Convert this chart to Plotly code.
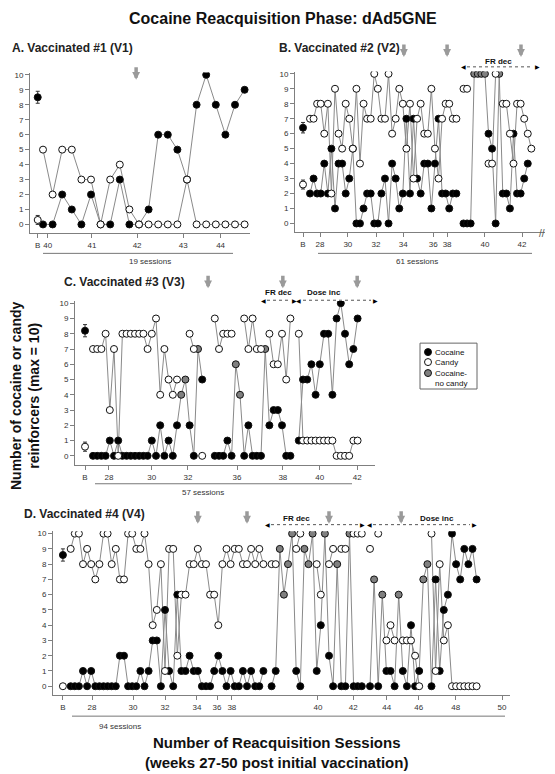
import plotly.graph_objects as go

W, H = 555, 774
OFF = 8  # page body margin of the html page
FONT = "Liberation Sans, Arial, sans-serif"
LINE = "#8a8a8a"
AX = "#7f7f7f"

# ---------------- data ----------------
# Panel A (V1)
a_cocaine = [0, 0, 2, 1, 0, 2, 0, 0, 3, 0, 0, 1, 6, 6, 5, 3, 8, 10, 8, 6, 8, 9]
a_candy = [5, 2, 5, 5, 3, 3, 0, 3, 4, 1, 0, 0, 0, 0, 0, 3, 0, 0, 0, 0, 0, 0]
a_nocandy = []
a_baseline = [8.5, 0.4, 0.3, 0.3]          # cocaine mean, sem, candy mean, sem
a_ticklabels = ["B", "40", "41", "42", "43", "44"]
a_tickpos = [-0.55, 0.5, 5.1, 9.8, 14.6, 18.5]
a_vaccinations = [9.7]
a_sessions_label = "19 sessions"

# Panel B (V2)
b_cocaine = [2, 3, 2, 2, 4, 2, 5, 1, 4, 4, 2, 3, 5, 0, 0, 1, 2, 2, 0, 0,
             2, 3, 0, 4, 3, 1, 2, 7, 2, 7, 3, 2, 4, 4, 1, 4, 7, 2, 2, 1,
             2, 2, None, 0, 0, 0, 10, 10, 10, 10, 6, 5, 0, 10, 2, 2, 1, 6, 2, 2,
             3, 4, None]
b_candy = [7, 7, 8, 8, 6, 8, 2, 9, 6, 5, 8, 7, 5, 9, 4, 8, 7, 7, 10, 9,
           7, 7, 10, 6, 7, 9, 8, 5, 8, 3, 7, 8, 6, 6, 9, 5, 3, 7, 8, 8,
           7, 7, None, 9, 9, None, None, None, None, None, 4, 4, 10, None, 8, 8, 6, 4, 8, 8,
           7, 6, 5]
b_nocandy = [46, 47, 48, 49, 53]
b_baseline = [6.4, 0.35, 2.6, 0.3]
b_ticklabels = ["B", "28", "30", "32", "34", "36", "38", "40", "42"]
b_tickpos = [-1.96, 2.8, 10.6, 18.5, 26.1, 34.5, 38.4, 49.0, 59.4]
b_vaccinations = [26.3, 38.4, 59.1]
b_sessions_label = "61 sessions"

# Panel C (V3)
c_cocaine = [0, 0, 0, 0, 1, 0, 1, 0, 0, 0, 0, 0, 0, 0, 1, 0, 2, 0, 1, 0,
             2, 4, 5, 2, 0, 7, 5, None, None, 0, 0, 0, 1, 0, 6, 4, 0, 2, 0, 0,
             0, 7, 2, 3, 3, 2, 0, 0, None, 1, 5, 5, 6, 4, 6, 8, 8, 4, 9, 10,
             8, 6, 7, 9]
c_candy = [7, 7, 7, 8, 3, 7, 0, 8, 8, 8, 8, 8, 8, 7, 8, 9, 4, 7, 5, 4,
           5, None, None, 8, 7, None, 0, None, None, 9, 7, 8, 8, 8, None, None, 9, 7, 9, 7,
           7, None, 8, 6, 6, 8, 5, 9, None, 8, 1, 1, 1, 1, 1, 1, 1, 1, 0, 0,
           0, 0, 1, 1]
c_nocandy = [21, 22, 25, 34, 35, 41]
c_baseline = [8.2, 0.4, 0.6, 0.3]
c_ticklabels = ["B", "28", "30", "32", "36", "38", "40", "42"]
c_tickpos = [-1.9, 3.8, 14.0, 22.6, 34.3, 45.2, 54.0, 62.9]
c_vaccinations = [27.4, 45.2, 62.9]
c_sessions_label = "57 sessions"

# Panel D (V4)
d_cocaine = [0, 0, 0, 1, 0, 1, 0, 0, 0, 0, 0, 0, 2, 2, 0, 0, 0, 1, 0, 1,
             3, 3, 0, 5, 1, 0, 6, 1, 1, 2, 1, 1, 0, 0, 0, 1, 2, 1, 0, 1,
             0, 0, 1, 0, 1, 0, 0, 1, None, 0, 1, 9, 6, 8, 10, 1, 0, 9, 8, 10,
             1, 4, 10, 2, 0, 8, 0, 0, 10, 0, 0, 0, None, 0, 7, 0, 6, 1, 1, 0,
             6, 1, 0, 4, 0, 1, 7, 8, 0, 7, 1, 5, 6, 10, 8, 7, 9, 8, 9, 7]
d_candy = [9, 10, 10, 8, 9, 8, 7, 8, 10, 10, 8, 9, 7, 7, 10, 10, 9, 9, 10, 8,
           4, 5, 8, 1, 9, 9, 2, 6, 6, 8, 8, 9, 8, 8, 6, 6, 4, 8, 9, 8,
           9, 9, 8, 8, 9, 8, 9, 8, None, 8, 8, None, None, None, None, 9, 10, None, None, None,
           8, 6, None, 8, 9, None, 9, 9, None, 10, 10, 10, None, 9, None, 10, None, 3, 4, 3,
           None, 3, 3, 3, 2, 0, None, None, 10, 1, 8, 3, 4, 0, 0, 0, 0, 0, 0, 0]
d_nocandy = [51, 52, 53, 54, 57, 58, 59, 62, 65, 68, 74, 76, 80, 86, 87]
d_baseline = [8.6, 0.4, 0.0, 0.0]
d_ticklabels = ["B", "28", "30", "32", "34", "36", "38", "40", "42", "44", "46", "48", "50"]
d_tickpos = [-1.9, 5.2, 15.2, 23.0, 30.8, 35.7, 39.3, 60.3, 68.9, 77.1, 84.9, 93.9, 105.2]
d_vaccinations = [31.0, 43.0, 63.0, 80.6]
d_sessions_label = "94 sessions"

legend_labels = ["Cocaine", "Candy", "Cocaine-<br>no candy"]

# ---------------- layout geometry (pixels of the 555x774 picture) ----------------
panels = [
    dict(n=1, coc=a_cocaine, candy=a_candy, nc=a_nocandy, base=a_baseline, tl=a_ticklabels,
         tp=a_tickpos, vac=a_vaccinations, xpx=(30, 250), x0=43, dx=9.6, y0=223, dy=15,
         title="A. Vaccinated #1 (V1)", tx=10, ty=46, arrow_tip=78,
         sess=a_sessions_label, sline=(43, 233, 252), stext=(150, 260)),
    dict(n=2, coc=b_cocaine, candy=b_candy, nc=b_nocandy, base=b_baseline, tl=b_ticklabels,
         tp=b_tickpos, vac=b_vaccinations, xpx=(295, 545), x0=310, dx=3.57, y0=222, dy=15,
         title="B. Vaccinated #2 (V2)", tx=277, ty=46, arrow_tip=55,
         sess=b_sessions_label, sline=(318, 532, 252), stext=(417, 260)),
    dict(n=3, coc=c_cocaine, candy=c_candy, nc=c_nocandy, base=c_baseline, tl=c_ticklabels,
         tp=c_tickpos, vac=c_vaccinations, xpx=(75, 375), x0=93, dx=4.2, y0=455, dy=15.3,
         title="C. Vaccinated #3 (V3)", tx=62, ty=281, arrow_tip=287,
         sess=c_sessions_label, sline=(95, 352, 483), stext=(203, 492)),
    dict(n=4, coc=d_cocaine, candy=d_candy, nc=d_nocandy, base=d_baseline, tl=d_ticklabels,
         tp=d_tickpos, vac=d_vaccinations, xpx=(53, 510), x0=70.7, dx=4.1, y0=686, dy=15.3,
         title="D. Vaccinated #4 (V4)", tx=22, ty=513, arrow_tip=523,
         sess=d_sessions_label, sline=(72, 505, 716), stext=(120, 726)),
]

YMIN, YMAX = -0.6, 10.15


def fx(px):
    return (px - OFF) / (W - OFF)


def fy(py):
    return 1 - (py - OFF) / (H - OFF)


def text(t, x, y, size=8, xanchor="center", yanchor="middle", color="#333", **kw):
    return dict(text=t, xref="paper", yref="paper", x=fx(x), y=fy(y), xanchor=xanchor,
                yanchor=yanchor, showarrow=False, font=dict(size=size, family=FONT, color=color), **kw)


fig = go.Figure()
layout = dict(width=W - OFF, height=H - OFF, margin=dict(l=0, r=0, t=0, b=0, pad=0),
              paper_bgcolor="white", plot_bgcolor="white", showlegend=False)
annotations = []
shapes = []

for p in panels:
    n = p["n"]
    sx = "" if n == 1 else str(n)
    xa, ya = "x" + sx, "y" + sx
    xs = list(range(len(p["coc"])))
    coc_black = [v if i not in p["nc"] else None for i, v in enumerate(p["coc"])]
    coc_grey = [v if i in p["nc"] else None for i, v in enumerate(p["coc"])]
    mk = dict(size=7, line=dict(color="#111", width=1))

    fig.add_trace(go.Scatter(x=xs, y=p["coc"], mode="lines", line=dict(color=LINE, width=1),
                             xaxis=xa, yaxis=ya, hoverinfo="skip"))
    fig.add_trace(go.Scatter(x=xs, y=p["candy"], mode="lines", line=dict(color=LINE, width=1),
                             xaxis=xa, yaxis=ya, hoverinfo="skip"))
    fig.add_trace(go.Scatter(x=xs, y=coc_black, mode="markers", name="Cocaine",
                             marker=dict(color="black", **mk), xaxis=xa, yaxis=ya))
    fig.add_trace(go.Scatter(x=xs, y=coc_grey, mode="markers", name="Cocaine-no candy",
                             marker=dict(color="#808080", **mk), xaxis=xa, yaxis=ya))
    fig.add_trace(go.Scatter(x=xs, y=p["candy"], mode="markers", name="Candy",
                             marker=dict(color="white", **mk), xaxis=xa, yaxis=ya))
    # baseline (B) points with error bars
    bx = p["tp"][0]
    cm, ce, km, ke = p["base"]
    fig.add_trace(go.Scatter(x=[bx], y=[km], mode="markers",
                             error_y=dict(type="data", array=[ke], color="#333", thickness=1, width=2,
                                          visible=ke > 0),
                             marker=dict(color="white", **mk), xaxis=xa, yaxis=ya))
    fig.add_trace(go.Scatter(x=[bx], y=[cm], mode="markers",
                             error_y=dict(type="data", array=[ce], color="#333", thickness=1, width=2),
                             marker=dict(color="black", **mk), xaxis=xa, yaxis=ya))

    x_lo, x_hi = p["xpx"]
    ytop = p["y0"] - YMAX * p["dy"]
    ybot = p["y0"] - YMIN * p["dy"]
    layout["xaxis" + sx] = dict(
        domain=[fx(x_lo), fx(x_hi)],
        range=[(x_lo - p["x0"]) / p["dx"], (x_hi - p["x0"]) / p["dx"]],
        anchor=ya, showgrid=False, zeroline=False, showline=True, linecolor=AX, linewidth=1,
        ticks="outside", ticklen=4, tickcolor=AX, tickvals=p["tp"], ticktext=p["tl"],
        tickfont=dict(size=8, color="#333", family=FONT), fixedrange=True)
    layout["yaxis" + sx] = dict(
        domain=[fy(ybot), fy(ytop)], range=[YMIN, YMAX], anchor=xa,
        showgrid=False, zeroline=False, showline=True, linecolor=AX, linewidth=1,
        ticks="outside", ticklen=4, tickcolor=AX, tickvals=list(range(11)),
        tickfont=dict(size=8, color="#333", family=FONT), fixedrange=True)

    annotations.append(text("<b>" + p["title"] + "</b>", p["tx"], p["ty"], size=12,
                            xanchor="left", color="#222"))
    for v in p["vac"]:
        annotations.append(dict(text="", xref=xa, yref="paper", x=v, y=fy(p["arrow_tip"]),
                                showarrow=True, ax=0, ay=-14, arrowhead=2, arrowsize=0.45,
                                arrowwidth=3.5, arrowcolor="#9a9a9a", standoff=0))
    s1, s2, sy = p["sline"]
    shapes.append(dict(type="line", xref="paper", yref="paper", x0=fx(s1), x1=fx(s2),
                       y0=fy(sy), y1=fy(sy), line=dict(color="#777", width=1)))
    annotations.append(text(p["sess"], p["stext"][0], p["stext"][1]))


def range_arrow(x1, x2, y, label, lx, ly):
    shapes.append(dict(type="line", xref="paper", yref="paper", x0=fx(x1 + 4), x1=fx(x2 - 4),
                       y0=fy(y), y1=fy(y), line=dict(color="#555", width=1, dash="dot")))
    for xx, ch in ((x1, "◀"), (x2, "▶")):
        annotations.append(dict(text=ch, xref="paper", yref="paper", x=fx(xx), y=fy(y),
                                xanchor="center", yanchor="middle", showarrow=False,
                                font=dict(size=6, family="DejaVu Sans", color="black")))
    annotations.append(text("<b>" + label + "</b>", lx, ly, color="#111"))


range_arrow(463, 537, 65, "FR dec", 498, 60)
range_arrow(263, 294, 299, "FR dec", 278, 291)
range_arrow(299, 375, 299, "Dose inc", 324, 291)
range_arrow(267, 362, 524, "FR dec", 296, 518)
range_arrow(369, 474, 524, "Dose inc", 437, 518)

# axis break on panel B
annotations.append(text("//", 542, 232, size=10, color="#555"))

# legend box (drawn by hand, compact as in the reference)
shapes.append(dict(type="rect", xref="paper", yref="paper", x0=fx(420), x1=fx(477),
                   y0=fy(342), y1=fy(388), line=dict(color="#666", width=1), fillcolor="white"))
for (cy, fill), lab in zip([(351, "black"), (361, "white"), (372, "#808080")], legend_labels):
    shapes.append(dict(type="circle", xref="paper", yref="paper", x0=fx(424.5), x1=fx(431.5),
                       y0=fy(cy + 3.5), y1=fy(cy - 3.5), line=dict(color="#111", width=1),
                       fillcolor=fill))
    annotations.append(text(lab, 433, cy + (5 if "<br>" in lab else 0), size=8, xanchor="left",
                            color="#111", align="left"))

# main title and axis titles
annotations.append(text("<b>Cocaine Reacquisition Phase: dAd5GNE</b>", 283, 17, size=16, color="#111"))
annotations.append(text("<b>Number of cocaine or candy<br>reinforcers (max = 10)</b>", 25, 395,
                        size=14, color="#111", textangle=-90))
annotations.append(text("<b>Number of Reacquisition Sessions<br>(weeks 27-50 post initial vaccination)</b>",
                        276, 752, size=15, color="#111"))

layout["annotations"] = annotations
layout["shapes"] = shapes
fig.update_layout(**layout)
fig.write_html("out.html")
